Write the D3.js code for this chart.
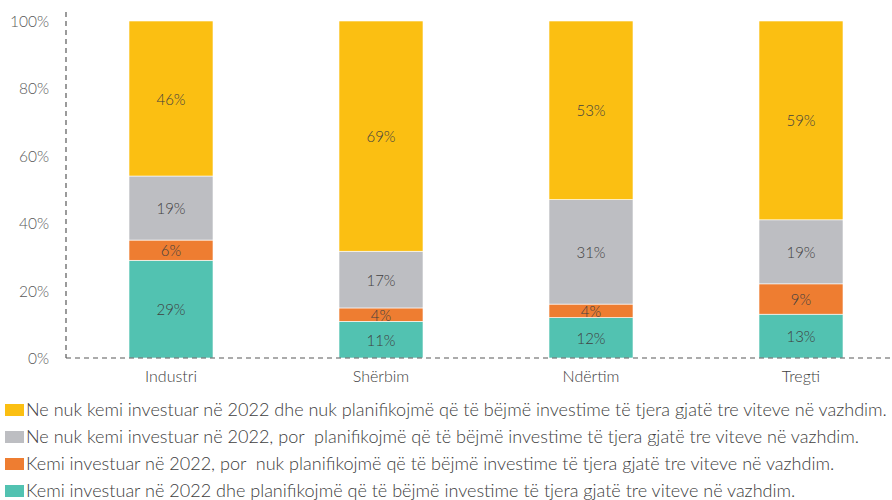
<!DOCTYPE html>
<html>
<head>
<meta charset="utf-8">
<script src="https://d3js.org/d3.v7.min.js"></script>
<style>
  body { margin: 0; background: #fff; }
  svg text { font-family: Lato, "Open Sans", sans-serif; font-weight: 300; }
  .legend text { white-space: pre; }
</style>
</head>
<body>
<svg width="892" height="500"></svg>
<script>
// data
var categories = ["Industri", "Shërbim", "Ndërtim", "Tregti"];
var keys = ["investedPlan", "investedNoPlan", "notInvestedPlan", "notInvestedNoPlan"];
var investedPlan      = [29, 11, 12, 13];
var investedNoPlan    = [6, 4, 4, 9];
var notInvestedPlan   = [19, 17, 31, 19];
var notInvestedNoPlan = [46, 69, 53, 59];
var yTicks = [0, 20, 40, 60, 80, 100];
var legendLabels = [
  "Ne nuk kemi investuar në 2022 dhe nuk planifikojmë që të bëjmë investime të tjera gjatë tre viteve në vazhdim.",
  "Ne nuk kemi investuar në 2022, por  planifikojmë që të bëjmë investime të tjera gjatë tre viteve në vazhdim.",
  "Kemi investuar në 2022, por  nuk planifikojmë që të bëjmë investime të tjera gjatë tre viteve në vazhdim.",
  "Kemi investuar në 2022 dhe planifikojmë që të bëjmë investime të tjera gjatë tre viteve në vazhdim."
];
var legendKeys = ["notInvestedNoPlan", "notInvestedPlan", "investedNoPlan", "investedPlan"];

var colors = {
  investedPlan: "#52c2b1",
  investedNoPlan: "#ee7d31",
  notInvestedPlan: "#bdbec2",
  notInvestedNoPlan: "#fbbf12"
};

var rows = categories.map(function(c, i) {
  return {
    cat: c,
    investedPlan: investedPlan[i],
    investedNoPlan: investedNoPlan[i],
    notInvestedPlan: notInvestedPlan[i],
    notInvestedNoPlan: notInvestedNoPlan[i]
  };
});

var svg = d3.select("svg");
var x0 = 66, y0 = 358, yTop = 21;

var x = d3.scaleBand().domain(categories).range([x0, x0 + 840]).paddingInner(0.6).paddingOuter(0.3);
var y = d3.scaleLinear().domain([0, 1]).range([y0, yTop]);

var series = d3.stack().keys(keys).offset(d3.stackOffsetExpand)(rows);

var g = svg.append("g");

series.forEach(function(s) {
  var grp = g.append("g");
  grp.selectAll("rect").data(s).join("rect")
    .attr("x", function(d) { return x(d.data.cat); })
    .attr("width", x.bandwidth())
    .attr("y", function(d) { return y(d[1]); })
    .attr("height", function(d) { return y(d[0]) - y(d[1]); })
    .attr("fill", colors[s.key])
    .attr("stroke", "#fff")
    .attr("stroke-width", 0.6);
  grp.selectAll("text").data(s).join("text")
    .attr("x", function(d) { return x(d.data.cat) + x.bandwidth() / 2; })
    .attr("y", function(d) { return (y(d[0]) + y(d[1])) / 2 + 6; })
    .attr("text-anchor", "middle")
    .attr("font-size", 15)
    .attr("fill", "#404040")
    .text(function(d) { return d.data[s.key] + "%"; });
});

// y axis (dashed)
svg.append("line")
  .attr("x1", x0).attr("x2", x0).attr("y1", 12).attr("y2", y0)
  .attr("stroke", "#595959").attr("stroke-width", 1.2).attr("stroke-dasharray", "5,4");
// x axis (dashed)
svg.append("line")
  .attr("x1", x0).attr("x2", 892).attr("y1", y0).attr("y2", y0)
  .attr("stroke", "#595959").attr("stroke-width", 1.2).attr("stroke-dasharray", "5,4");

svg.selectAll(".ytick").data(yTicks).join("text")
  .attr("class", "ytick")
  .attr("x", 49)
  .attr("y", function(d) { return y(d / 100) + 6; })
  .attr("text-anchor", "end")
  .attr("font-size", 15.5)
  .attr("fill", "#595959")
  .text(function(d) { return d + "%"; });

svg.selectAll(".xlab").data(categories).join("text")
  .attr("class", "xlab")
  .attr("x", function(d) { return x(d) + x.bandwidth() / 2; })
  .attr("y", 382)
  .attr("text-anchor", "middle")
  .attr("font-size", 16)
  .attr("fill", "#404040")
  .text(function(d) { return d; });

// legend
var leg = svg.append("g").attr("class", "legend");
var legY = [410, 437, 464, 491];
legendKeys.forEach(function(k, i) {
  leg.append("rect")
    .attr("x", 5).attr("y", legY[i] - 6).attr("width", 19).attr("height", 12)
    .attr("fill", colors[k]);
  leg.append("text")
    .attr("x", 26).attr("y", legY[i] + 6)
    .attr("font-size", 16)
    .attr("fill", "#404040")
    .text(legendLabels[i]);
});
// fit legend font to the width of the widest line
var texts = leg.selectAll("text").nodes();
var w0 = texts[0].getComputedTextLength();
var fs = 16 * 861 / w0;
leg.selectAll("text").attr("font-size", fs);
</script>
</body>
</html>
